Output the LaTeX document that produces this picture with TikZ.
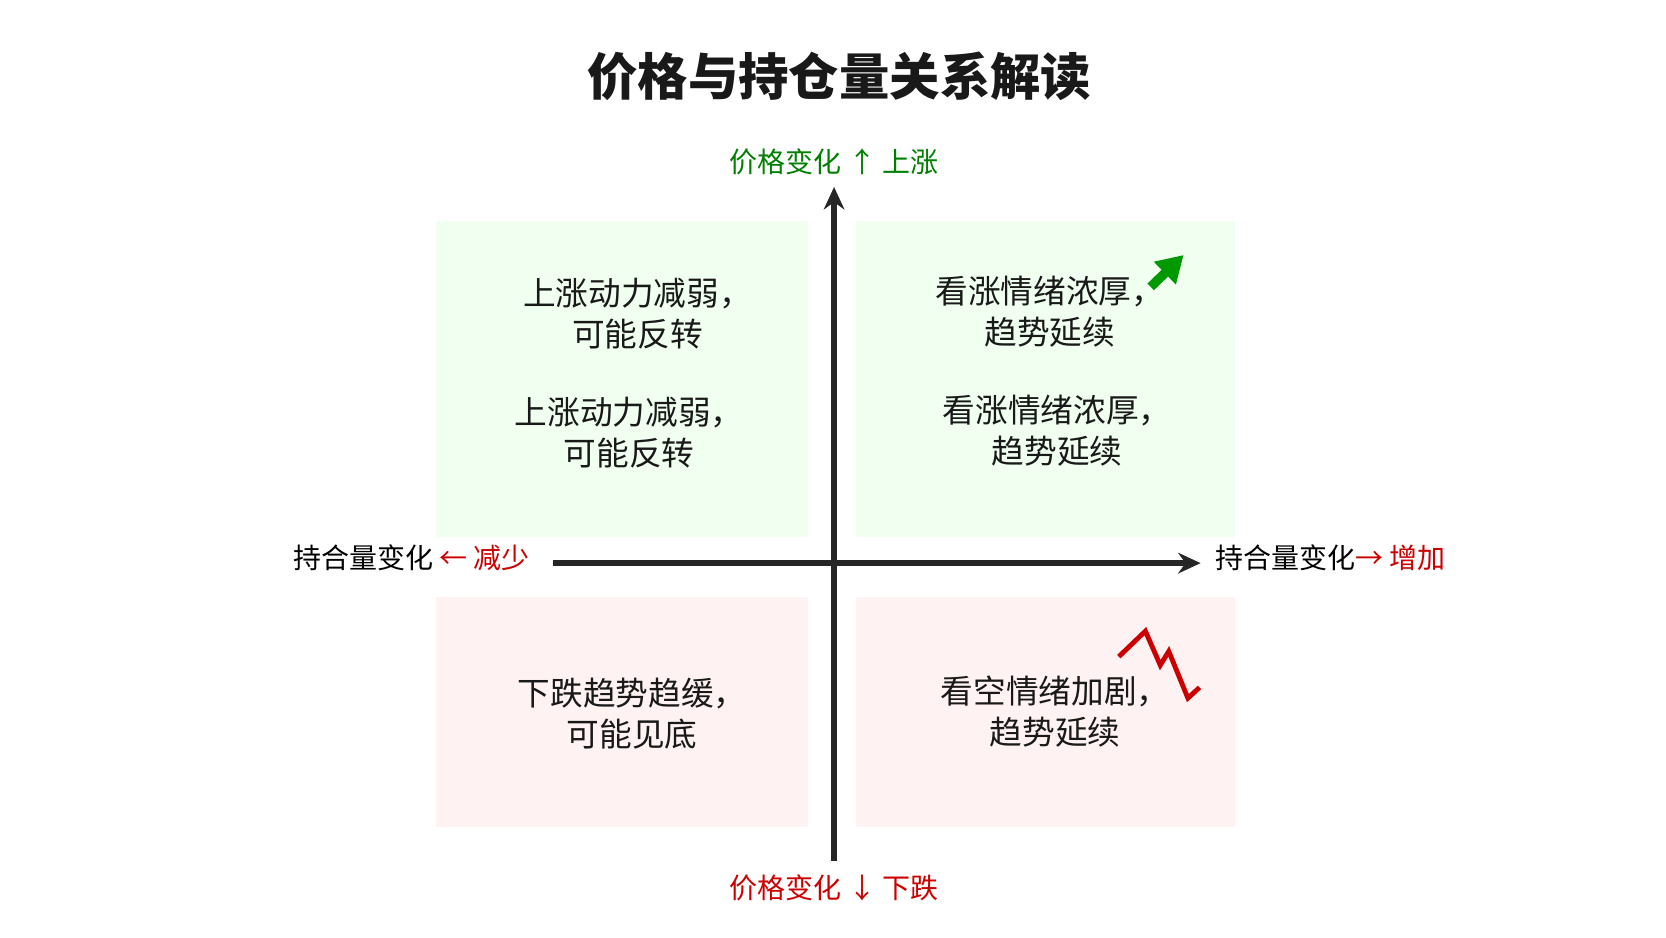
\documentclass[tikz,border=0pt]{standalone}
\usepackage{fontspec}
\setmainfont{Noto Sans CJK SC}
\usetikzlibrary{arrows.meta,positioning}
\tikzset{>={Stealth[length=12pt,width=11pt]}}
\colorlet{upColor}{green!50!black}
\colorlet{downColor}{red!80!black}
\colorlet{upFill}{green!40!white}
\colorlet{downFill}{red!30!white}
\tikzset{
  qtext/.style={align=center,font=\fontsize{17.5}{22}\selectfont,text=black!90},
  axislabel/.style={font=\fontsize{15}{17}\selectfont}
}

\begin{document}
\begin{tikzpicture}[x=0.02cm,y=-0.02cm]
            \useasboundingbox[fill=white] (0,0) rectangle (1568,882);
            % quadrants
            \fill[upFill,opacity=.14] (410,208) rectangle (760,505);
            \fill[upFill,opacity=.14] (806,208) rectangle (1162,505);
            \fill[downFill,opacity=.17] (410,562) rectangle (760,778);
            \fill[downFill,opacity=.17] (806,562) rectangle (1162,778);
            % title
            \node[font=\fontsize{27}{30}\selectfont\bfseries,text=black!90] (title) at (790,72) {价格与持仓量关系解读};
            % axes
            \coordinate (ybot) at (785,810);
            \coordinate (ytop) at (785,176);
            \coordinate (xleft) at (520,530);
            \coordinate (xright) at (1130,530);
            \draw[->,line width=3pt,black!85] (ybot) -- (ytop);
            \draw[->,line width=3pt,black!85] (xleft) -- (xright);
            \node[axislabel,text=upColor] (uplabel) at (785,152) {价格变化 ↑ 上涨};
            \node[axislabel,text=downColor] (downlabel) at (785,836) {价格变化 ↓ 下跌};
            \node[axislabel,anchor=east] (leftlabel) at (505,525) {持合量变化 \textcolor{downColor}{← 减少}};
            \node[axislabel,anchor=west] (rightlabel) at (1138,525) {持合量变化\textcolor{downColor}{→ 增加}};
            % quadrant texts
            \node[qtext] (tla) at (600,295) {上涨动力减弱，\\可能反转};
            \node[qtext] (tlb) at (592,407) {上涨动力减弱，\\可能反转};
            \node[qtext] (tra) at (988,293) {看涨情绪浓厚，\\趋势延续};
            \node[qtext] (trb) at (995,405) {看涨情绪浓厚，\\趋势延续};
            \node[qtext] (bl) at (595,672) {下跌趋势趋缓，\\可能见底};
            \node[qtext] (br) at (993,670) {看空情绪加剧，\\趋势延续};
            % icons
            \draw[-{Triangle[length=14pt,width=16pt]},green!60!black,line width=5pt] (1083,270) -- (1114,240);
            \draw[downColor,line width=2.6pt,line join=miter] (1053,618) -- (1078,594) -- (1092,626) -- (1100,613) -- (1118,657) -- (1129,647);
        \end{tikzpicture}
\end{document}
